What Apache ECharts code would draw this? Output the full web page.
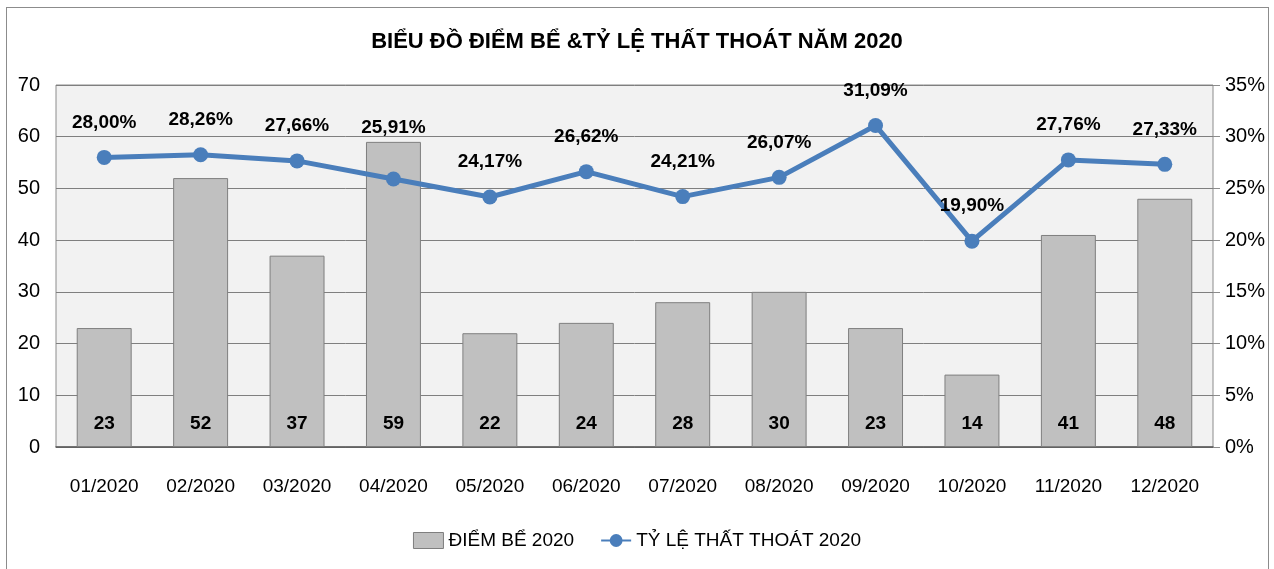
<!doctype html>
<html>
<head>
<meta charset="utf-8">
<title>Biểu đồ điểm bể</title>
<style>
	html,body{margin:0;padding:0;background:#fff;}
	.frame{position:absolute;left:6px;top:7px;width:1263px;height:570px;border:1px solid #8c8c8c;box-sizing:border-box;}
	#chart{position:absolute;left:0;top:0;width:1274px;height:569px;}
</style>
</head>
<body>
	<div class="frame"></div>
	<div id="chart"></div>
	<script src="https://cdn.jsdelivr.net/npm/echarts@6/dist/echarts.min.js"></script>
	<script type="text/javascript">
		var months = ['01/2020','02/2020','03/2020','04/2020','05/2020','06/2020','07/2020','08/2020','09/2020','10/2020','11/2020','12/2020'];
		var diemBe = [23,52,37,59,22,24,28,30,23,14,41,48];
		var tyLe = [28.00,28.26,27.66,25.91,24.17,26.62,24.21,26.07,31.09,19.90,27.76,27.33];
		var leftTicks = [0,10,20,30,40,50,60,70];
		var rightTicks = [0,5,10,15,20,25,30,35];

		var font = '"Liberation Sans Narrow","Liberation Sans",Arial,sans-serif';

		// nhãn tháng 04 được đẩy lên cao hơn để tránh cột
		var lineData = tyLe.map(function(v,i){
			var item = {value:v};
			if(i==3){
				item.label = {offset:[0,-16]};
			}
			return item;
		});

		var chart = echarts.init(document.getElementById('chart'));
		var option = {
			animation:false,
			textStyle:{fontFamily:font},
			title:{
				text:'BIỂU ĐỒ ĐIỂM BỂ &TỶ LỆ THẤT THOÁT NĂM 2020',
				left:'center',
				top:26,
				textStyle:{fontFamily:font,fontSize:22,fontWeight:'bold',color:'#000'}
			},
			legend:{
				bottom:14,
				left:'center',
				itemGap:26,
				textStyle:{fontFamily:font,fontSize:19,color:'#000'},
				data:[
					{name:'ĐIỂM BỂ 2020',icon:'rect',itemStyle:{color:'#c0c0c0',borderColor:'#7f7f7f',borderWidth:1}},
					{name:'TỶ LỆ THẤT THOÁT 2020'}
				],
				itemWidth:30,
				itemHeight:16
			},
			grid:{
				left:56,
				right:61,
				top:85,
				bottom:122,
				show:true,
				backgroundColor:'#f2f2f2',
				borderColor:'#8c8c8c',
				borderWidth:1
			},
			xAxis:{
				type:'category',
				data:months,
				axisTick:{show:false},
				axisLine:{lineStyle:{color:'#595959',width:1.5}},
				axisLabel:{color:'#000',fontSize:19,margin:30,fontFamily:font}
			},
			yAxis:[{
				type:'value',
				min:leftTicks[0],
				max:leftTicks[leftTicks.length-1],
				interval:10,
				axisLine:{show:false},
				axisTick:{show:false},
				splitLine:{lineStyle:{color:'#7f7f7f',width:1}},
				axisLabel:{color:'#000',fontSize:20,margin:16,fontFamily:font}
			},{
				type:'value',
				min:rightTicks[0],
				max:rightTicks[rightTicks.length-1],
				interval:5,
				axisLine:{show:false},
				axisTick:{show:true,length:7,lineStyle:{color:'#8c8c8c'}},
				splitLine:{show:false},
				axisLabel:{color:'#000',fontSize:20,margin:12,fontFamily:font,formatter:'{value}%'}
			}],
			series:[{
				name:'ĐIỂM BỂ 2020',
				type:'bar',
				data:diemBe,
				barWidth:'57%',
				itemStyle:{color:'#c0c0c0',borderColor:'#7f7f7f',borderWidth:1},
				label:{
					show:true,
					position:'insideBottom',
					distance:14,
					color:'#000',
					fontSize:19,
					fontWeight:'bold',
					fontFamily:font
				}
			},{
				name:'TỶ LỆ THẤT THOÁT 2020',
				type:'line',
				yAxisIndex:1,
				data:lineData,
				symbol:'circle',
				symbolSize:15,
				lineStyle:{color:'#4a7ebb',width:5},
				itemStyle:{color:'#4a7ebb'},
				label:{
					show:true,
					position:'top',
					distance:18,
					color:'#000',
					fontSize:19,
					fontWeight:'bold',
					fontFamily:font,
					formatter:function(p){
						return p.value.toFixed(2).replace('.',',')+'%';
					}
				}
			}]
		};
		chart.setOption(option);
	</script>
</body>
</html>
